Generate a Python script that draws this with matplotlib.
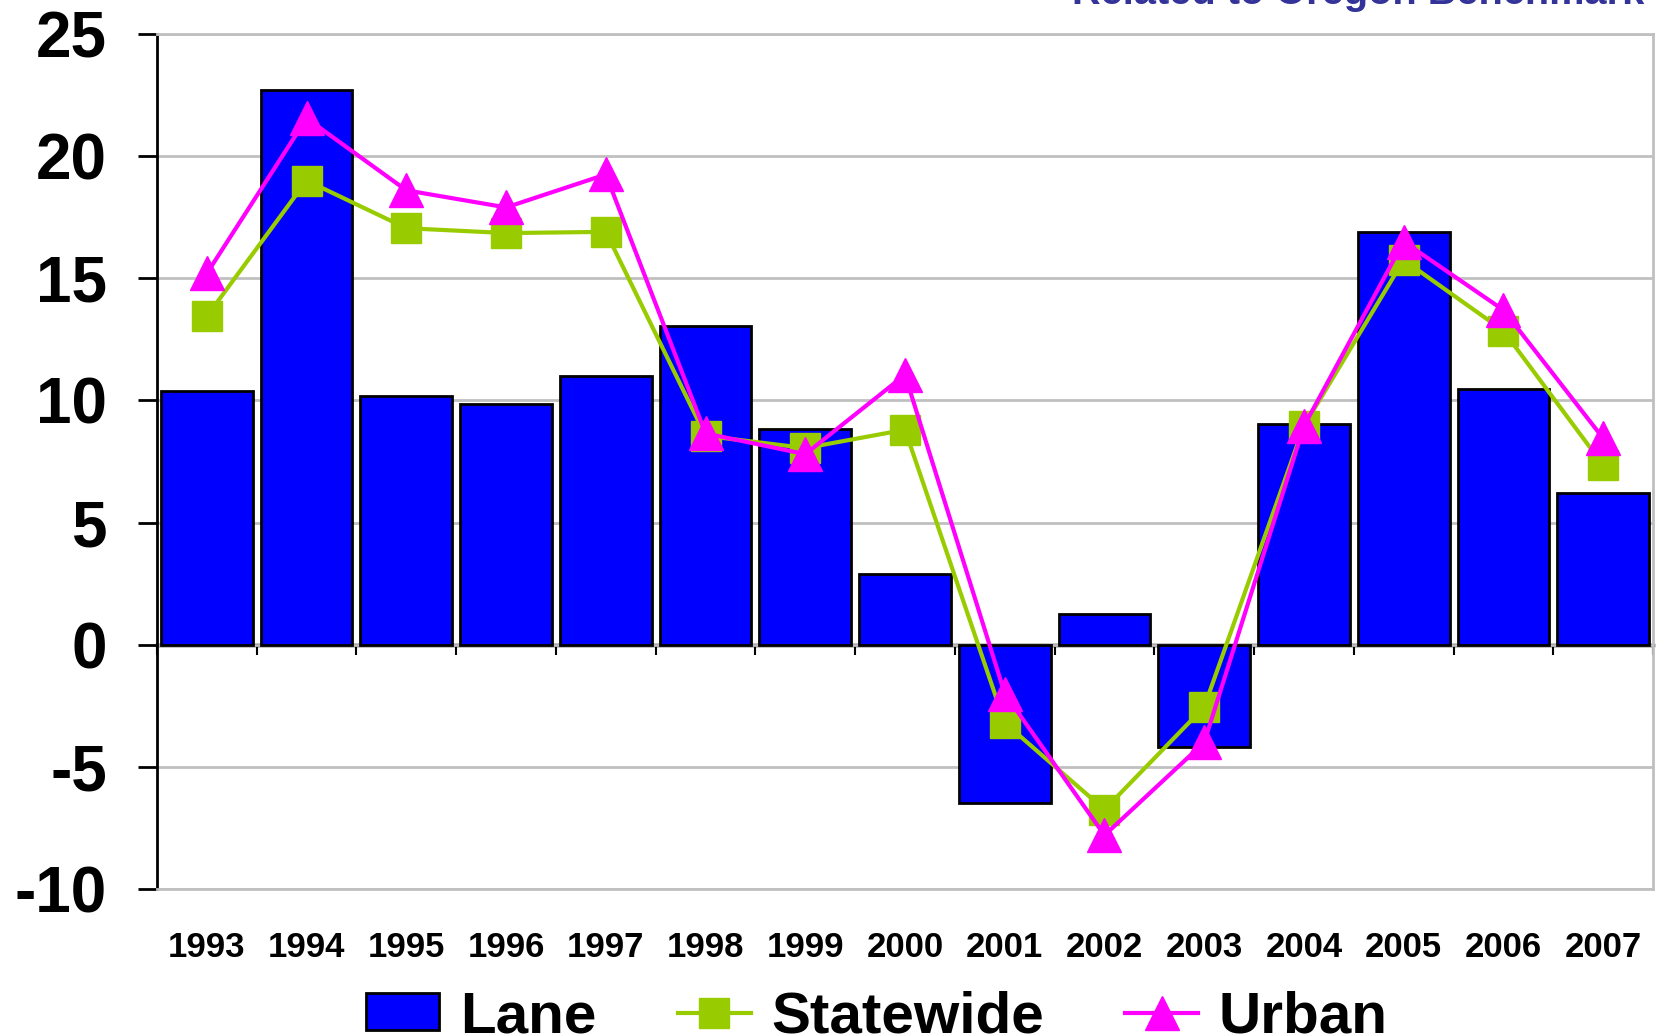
import numpy as np
import matplotlib.pyplot as plt
from matplotlib.lines import Line2D
from matplotlib.patches import Patch

years = ['1993', '1994', '1995', '1996', '1997', '1998', '1999', '2000',
         '2001', '2002', '2003', '2004', '2005', '2006', '2007']
lane = [10.4, 22.7, 10.2, 9.85, 11.0, 13.05, 8.85, 2.9,
        -6.5, 1.25, -4.2, 9.05, 16.9, 10.45, 6.2]
statewide = [13.45, 19.0, 17.05, 16.85, 16.9, 8.55, 8.05, 8.8,
             -3.2, -6.75, -2.55, 8.95, 15.75, 12.85, 7.35]
urban = [15.2, 21.55, 18.6, 17.9, 19.25, 8.65, 7.8, 11.05,
         -2.0, -7.8, -4.0, 8.95, 16.5, 13.7, 8.45]
yticks = [-10, -5, 0, 5, 10, 15, 20, 25]

plt.rcParams['font.family'] = ['Liberation Sans', 'DejaVu Sans']
plt.rcParams['font.weight'] = 'bold'

fig = plt.figure(figsize=(16.58, 10.36), dpi=100)
ax = fig.add_axes([0.0947, 0.1419, 0.9023, 0.8253])

x = np.arange(len(years))
ax.bar(x, lane, width=0.92, color='#0000FF', edgecolor='black', linewidth=2, zorder=2)
ax.plot(x, statewide, color='#99CC00', lw=3, marker='s', ms=21, zorder=3)
ax.plot(x, urban, color='#FF00FF', lw=3, marker='^', ms=24, zorder=4)

ax.set_xlim(-0.5, len(years) - 0.5)
ax.set_ylim(-10, 25)
ax.set_yticks(yticks)
ax.set_yticklabels([str(v) for v in yticks], fontsize=46, fontweight='bold')
ax.yaxis.grid(True, color='#C0C0C0', lw=2, zorder=0)
ax.set_axisbelow(True)
ax.tick_params(axis='y', length=14, width=2, pad=22)

ax.set_xticks(x)
ax.set_xticklabels(years, fontsize=25, fontweight='bold')
ax.tick_params(axis='x', length=0, pad=30)

for s in ['top', 'right', 'bottom']:
    ax.spines[s].set_color('#C0C0C0')
    ax.spines[s].set_linewidth(2)
ax.spines['left'].set_linewidth(2)

# zero line with category ticks
sec = ax.secondary_xaxis(10 / 35)
sec.set_xticks(np.arange(len(years) + 1) - 0.5)
sec.set_xticklabels([])
sec.tick_params(direction='out', length=7, width=1.5)
sec.spines['bottom'].set_linewidth(2.5)
sec.spines['bottom'].set_zorder(5)

fig.text(0.992, 1 - 4 / 1036, 'Related to Oregon Benchmark', ha='right', va='baseline',
         fontsize=28.6, fontweight='bold', color='#333399')

handles = [Patch(facecolor='#0000FF', edgecolor='black', linewidth=2),
           Line2D([], [], color='#99CC00', lw=3, marker='s', ms=21),
           Line2D([], [], color='#FF00FF', lw=3, marker='^', ms=24)]
fig.legend(handles, ['Lane', 'Statewide', 'Urban'], loc='center',
           bbox_to_anchor=(0.529, 0.018), ncol=3, frameon=False,
           prop={'size': 42, 'weight': 'bold'}, handlelength=1.25,
           handleheight=0.6, handletextpad=0.35, columnspacing=1.4)

fig.savefig('out.png', dpi=100)
